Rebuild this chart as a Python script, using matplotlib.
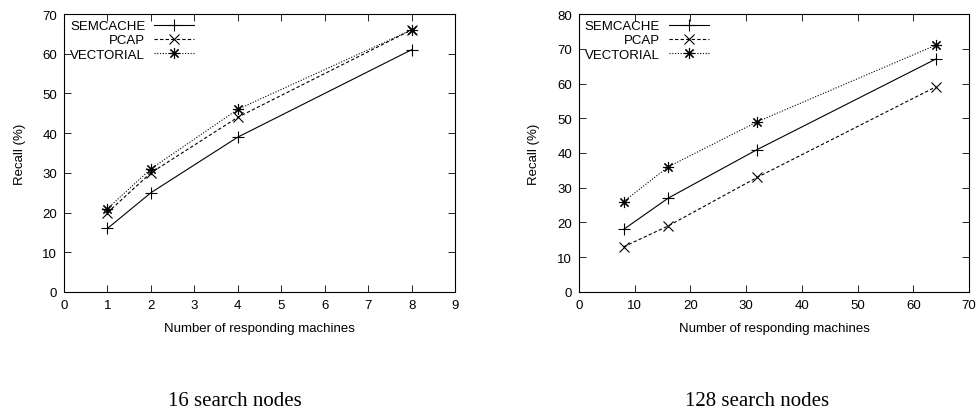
import matplotlib
matplotlib.use("Agg")
import matplotlib.pyplot as plt

# left panel: 16 search nodes
machines_16 = [1, 2, 4, 8]
semcache_16 = [16, 25, 39, 61]
pcap_16 = [20, 30, 44, 66]
vectorial_16 = [21, 31, 46, 66]

# right panel: 128 search nodes
machines_128 = [8, 16, 32, 64]
semcache_128 = [18, 27, 41, 67]
pcap_128 = [13, 19, 33, 59]
vectorial_128 = [26, 36, 49, 71]

plt.rcParams['font.family'] = ['Liberation Sans', 'DejaVu Sans']
plt.rcParams['font.size'] = 9.5

fig = plt.figure(figsize=(9.79, 4.10), dpi=100)
ax1 = fig.add_axes([0.0654, 0.2854, 0.3994, 0.678])
ax2 = fig.add_axes([0.5914, 0.2854, 0.3984, 0.678])


def draw_panel(ax, x, sem, pcap, vec, xmax, ymax):
    ax.plot(x, sem, color='black', linestyle='-', linewidth=0.8,
            marker='+', markersize=8, markeredgewidth=0.8, label='SEMCACHE')
    ax.plot(x, pcap, color='black', linestyle=(0, (3, 2)), linewidth=0.8,
            marker='x', markersize=6.5, markeredgewidth=0.8, label='PCAP')
    ax.plot(x, vec, color='black', linestyle=(0, (1, 1.5)), linewidth=0.8,
            marker=(8, 2, 0), markersize=8, markeredgewidth=0.8, label='VECTORIAL')
    ax.set_xlim(0, xmax)
    ax.set_ylim(0, ymax)
    ax.set_xlabel('Number of responding machines', labelpad=8)
    ax.set_ylabel('Recall (%)', labelpad=12)
    ax.tick_params(direction='in', top=True, right=True, length=5, width=0.6, pad=5)
    for s in ax.spines.values():
        s.set_linewidth(0.8)
    leg = ax.legend(loc='upper left', frameon=False, markerfirst=False,
                    handlelength=3.0, handletextpad=0.7, labelspacing=0.15,
                    borderaxespad=0.35, borderpad=0.1, fontsize=9.5)
    leg.set_clip_on(False)


draw_panel(ax1, machines_16, semcache_16, pcap_16, vectorial_16, 9, 70)
ax1.set_xticks(range(0, 10))
ax1.set_yticks(range(0, 71, 10))

draw_panel(ax2, machines_128, semcache_128, pcap_128, vectorial_128, 70, 80)
ax2.set_xticks(range(0, 71, 10))
ax2.set_yticks(range(0, 81, 10))

# sub-figure captions
fig.text(0.2395, 0.009, '16 search nodes', ha='center', va='baseline',
         family=['Liberation Serif'], fontsize=15)
fig.text(0.7737, 0.009, '128 search nodes', ha='center', va='baseline',
         family=['Liberation Serif'], fontsize=15)

fig.savefig('out.png', dpi=100)
